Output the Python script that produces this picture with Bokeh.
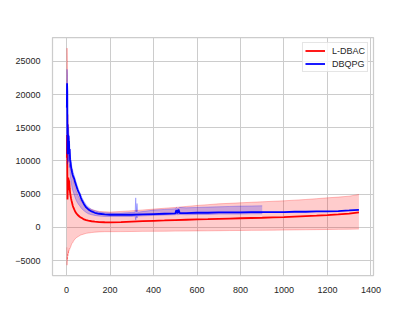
from bokeh.plotting import figure
from bokeh.models import Range1d, FixedTicker, Legend, LegendItem
from bokeh.embed import file_html
from bokeh.resources import INLINE

# ---- data ----
episodes = [1, 2, 3, 4, 5, 6, 7, 8, 9, 10, 11, 12, 14, 16, 18, 20, 22, 25, 28, 31, 35, 40, 45, 50,
            55, 60, 65, 70, 80, 90, 100, 115, 130, 150, 175, 200, 250, 300, 350, 400, 450, 500,
            550, 600, 650, 700, 750, 800, 850, 900, 950, 1000, 1050, 1100, 1150, 1200, 1250,
            1300, 1345]

ldbac_mean = [10500, 13900, 9800, 4200, 5500, 7400, 6000, 7500, 5600, 7200, 6400, 7000, 5900, 5200,
              4800, 4400, 4100, 3700, 3300, 3000, 2700, 2350, 2100, 1900, 1750, 1600, 1500, 1400,
              1200, 1080, 1000, 920, 860, 800, 770, 760, 800, 870, 930, 990, 1040, 1100, 1150,
              1200, 1240, 1290, 1330, 1370, 1410, 1450, 1500, 1550, 1620, 1690, 1760, 1850, 1950,
              2080, 2250]
ldbac_upper = [20000, 27000, 24000, 17000, 15000, 17000, 14000, 15500, 13000, 13500, 12000, 12500,
               11000, 10000, 9500, 9000, 8500, 8700, 7500, 7000, 6500, 6000, 5400, 5000, 4600,
               4300, 4000, 3800, 3400, 3100, 2900, 2700, 2550, 2400, 2350, 2300, 2400, 2500, 2620,
               2750, 2880, 3000, 3150, 3300, 3420, 3550, 3620, 3700, 3780, 3850, 3930, 4000, 4100,
               4200, 4320, 4450, 4560, 4700, 4950]
ldbac_lower = [-3000, -5700, -4500, -4800, -4000, -4300, -3800, -3600, -3900, -3400, -3500, -3200,
               -3300, -3100, -3000, -2800, -2600, -2400, -2300, -2100, -1900, -1700, -1550, -1450,
               -1350, -1250, -1150, -1100, -1000, -900, -850, -780, -720, -680, -650, -650, -640,
               -620, -600, -590, -580, -560, -550, -530, -520, -500, -480, -470, -450, -440, -420,
               -400, -380, -360, -340, -320, -300, -280, -250]

dbqpg_episodes = [1, 2, 3, 4, 5, 6, 7, 8, 9, 10, 11, 12, 14, 16, 18, 20, 22, 25, 28, 31, 35, 40, 45,
                  50, 55, 60, 65, 70, 80, 90, 100, 115, 130, 150, 175, 200, 250, 300, 350, 400, 450,
                  500, 505, 510, 515, 520, 550, 600, 650, 700, 750, 800, 850, 900, 950, 1000, 1050,
                  1100, 1150, 1200, 1250, 1300, 1345]
dbqpg_mean = [18000, 21700, 20500, 11000, 13500, 12000, 14000, 11500, 13800, 12500, 13000, 11000,
              11800, 10200, 9800, 9200, 8800, 8300, 7900, 7600, 7300, 6700, 6200, 5700, 5300, 5000,
              4500, 4100, 3500, 3000, 2700, 2400, 2200, 2050, 1950, 1900, 1900, 1900, 1950, 2000,
              2050, 2100, 2600, 2100, 2700, 2150, 2150, 2200, 2200, 2250, 2250, 2250, 2300, 2300,
              2300, 2300, 2350, 2350, 2400, 2400, 2450, 2550, 2650]

band_episodes = [1, 2, 3, 4, 5, 6, 7, 8, 9, 10, 11, 12, 14, 16, 18, 20, 22, 25, 28, 31, 35, 40, 45,
                 50, 55, 60, 65, 70, 80, 90, 100, 115, 130, 150, 175, 200, 250, 300, 315, 318, 321,
                 324, 327, 330, 400, 450, 500, 505, 510, 520, 550, 600, 650, 700, 750, 800, 850, 900]
dbqpg_upper = [20500, 23800, 23000, 13000, 15500, 14000, 15500, 13500, 15000, 14500, 14000, 13000,
               12500, 11000, 10500, 10000, 9500, 9000, 8600, 8200, 7800, 7200, 6700, 6200, 5700,
               5300, 4900, 4500, 3900, 3400, 3050, 2700, 2500, 2300, 2200, 2150, 2150, 2250, 2300,
               4450, 2300, 3600, 2300, 2300, 2600, 2700, 2800, 3000, 2800, 3000, 2950, 3000, 3050,
               3100, 3150, 3200, 3220, 3250]
dbqpg_lower = [14000, 19500, 17000, 9500, 10500, 10000, 11500, 9800, 11000, 10500, 10500, 9000,
               9500, 8000, 7500, 7000, 6600, 6000, 5600, 5300, 4900, 4400, 4000, 3700, 3450, 3250,
               3000, 2800, 2500, 2250, 2050, 1900, 1800, 1700, 1650, 1650, 1650, 1650, 1700, 1100,
               1700, 1400, 1700, 1700, 1800, 1850, 1900, 1950, 1900, 1950, 1900, 1950, 1950, 2000,
               2000, 2000, 2050, 2050]

x_ticks = [0, 200, 400, 600, 800, 1000, 1200, 1400]
y_ticks = [-5000, 0, 5000, 10000, 15000, 20000, 25000]

# ---- figure ----
p = figure(width=399, height=295, output_backend="svg", toolbar_location=None,
           x_range=Range1d(-65, 1412), y_range=Range1d(-7250, 28600),
           min_border_left=52, min_border_right=26, min_border_top=37, min_border_bottom=19)
p.background_fill_color = "white"
p.border_fill_color = "white"
p.outline_line_color = "#cccccc"
p.outline_line_width = 1.25

FONT = "Liberation Sans"
for ax in (p.xaxis[0], p.yaxis[0]):
    ax.axis_line_color = None
    ax.major_tick_line_color = None
    ax.minor_tick_line_color = None
    ax.major_label_text_font = FONT
    ax.major_label_text_font_size = "9px"
    ax.major_label_text_color = "#262626"
p.xaxis.ticker = FixedTicker(ticks=x_ticks)
p.yaxis.ticker = FixedTicker(ticks=y_ticks)
p.xaxis.major_label_standoff = 5
p.yaxis.major_label_standoff = 6
p.yaxis.major_label_overrides = {t: (("\u2212" + str(-t)) if t < 0 else str(t)) for t in y_ticks}

for g in (p.xgrid[0], p.ygrid[0]):
    g.grid_line_color = "#cccccc"
    g.grid_line_width = 1

# L-DBAC band + mean
p.varea(x=episodes, y1=ldbac_lower, y2=ldbac_upper, fill_color="#ff0000", fill_alpha=0.2)
p.line(episodes, ldbac_upper, line_color="#ff0000", line_alpha=0.3, line_width=0.8)
p.line(episodes, ldbac_lower, line_color="#ff0000", line_alpha=0.3, line_width=0.8)
r_red = p.line(episodes, ldbac_mean, line_color="#ff0000", line_width=1.8)

# DBQPG band + mean
p.varea(x=band_episodes, y1=dbqpg_lower, y2=dbqpg_upper, fill_color="#0000ff", fill_alpha=0.2)
p.line(band_episodes, dbqpg_upper, line_color="#0000ff", line_alpha=0.3, line_width=0.8)
p.line(band_episodes, dbqpg_lower, line_color="#0000ff", line_alpha=0.3, line_width=0.8)
r_blue = p.line(dbqpg_episodes, dbqpg_mean, line_color="#0000ff", line_width=1.8)

legend = Legend(items=[LegendItem(label="L-DBAC", renderers=[r_red]),
                       LegendItem(label="DBQPG", renderers=[r_blue])],
                location="top_right")
legend.margin = 5
legend.padding = 2
legend.spacing = 2
legend.glyph_width = 20
legend.glyph_height = 11
legend.label_height = 11
legend.label_standoff = 7
legend.label_text_font = FONT
legend.label_text_font_size = "9px"
legend.label_text_color = "#262626"
legend.border_line_color = "#cccccc"
legend.border_line_width = 1
legend.background_fill_color = "white"
legend.background_fill_alpha = 0.8
p.add_layout(legend)

open("out.html", "w").write(file_html(p, INLINE))
